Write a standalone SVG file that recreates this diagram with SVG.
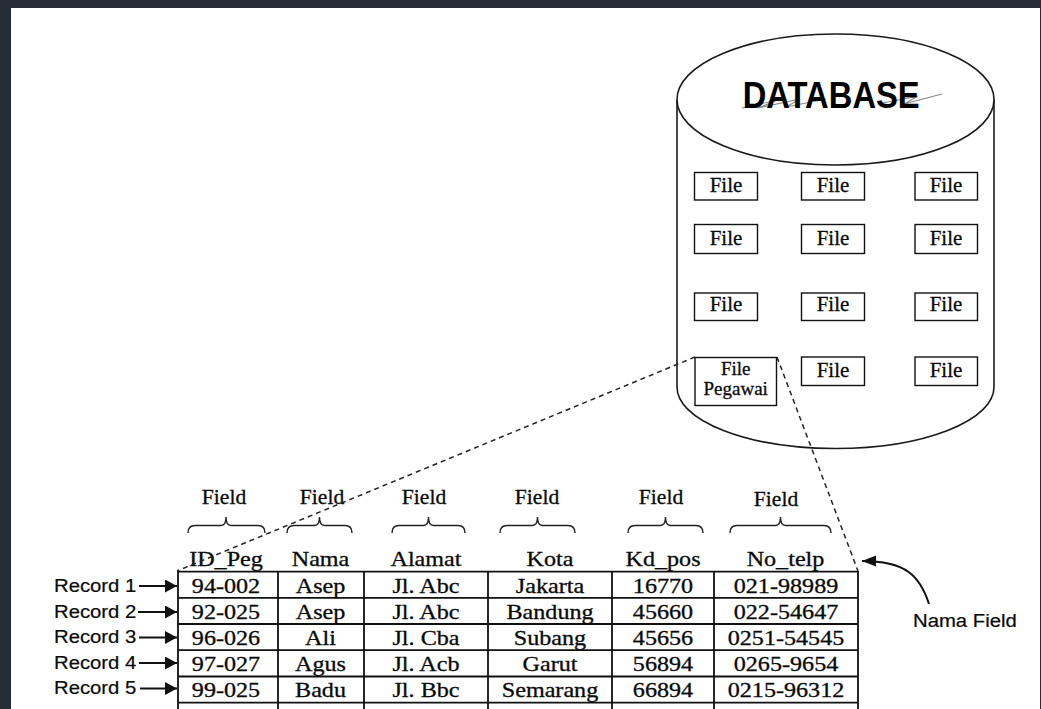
<svg xmlns="http://www.w3.org/2000/svg" width="1041" height="709" viewBox="0 0 1041 709">
  <style>
    .frame { fill: #262d36; }
    .page { fill: #ffffff; }
    .serif { font-family: "Liberation Serif", "Times New Roman", serif; fill: #0a0a0a; stroke: #0a0a0a; stroke-width: 0.3; }
    .sans { font-family: "Liberation Sans", Arial, sans-serif; fill: #0a0a0a; stroke: #0a0a0a; stroke-width: 0.2; }
    .cyl { fill: #ffffff; stroke: #1a1a1a; stroke-width: 1.6; }
    .box { fill: #ffffff; stroke: #111; stroke-width: 1.4; }
    .file { font-size: 21px; text-anchor: middle; }
    .grid { fill: none; stroke: #111; stroke-width: 1.8; }
    .brace { fill: none; stroke: #222; stroke-width: 1.4; }
    .dash { fill: none; stroke: #222; stroke-width: 1.5; stroke-dasharray: 5 4; }
    .field { font-size: 20px; text-anchor: middle; }
    .cell { font-size: 21px; text-anchor: middle; }
    .rec { font-size: 17.5px; }
    .arrow { fill: none; stroke: #111; stroke-width: 2; }
    .streak { fill: none; stroke: #8a8a8a; stroke-width: 1.1; }
  </style>
  <defs>
    <marker id="head" markerUnits="userSpaceOnUse" markerWidth="13" markerHeight="13" refX="12" refY="6.5" orient="auto">
      <path d="M0,0 L12,6.5 L0,13 z" fill="#111"/>
    </marker>
    <marker id="headCurve" markerUnits="userSpaceOnUse" markerWidth="15" markerHeight="12" refX="14" refY="6" orient="auto">
      <path d="M0,0.5 L14,6 L0,11.5 z" fill="#111"/>
    </marker>
  </defs>

  <!-- page frame -->
  <rect class="frame" x="0" y="0" width="1041" height="709"/>
  <rect class="page" x="11" y="8" width="1029" height="701"/>

  <!-- database cylinder -->
  <g id="database">
    <path class="cyl" d="M677,100 L677,387 A158.5,61.5 0 0 0 994,387 L994,100"/>
    <ellipse class="cyl" cx="835.5" cy="99.5" rx="158.5" ry="65.5"/>
    <path class="streak" d="M742,108 L778,100 L758,108 L800,99 L786,107 L826,99 M878,104 L918,96 L904,104 L942,94"/>
    <text x="742.7" y="107.5" font-family="Liberation Sans, Arial, sans-serif" font-size="36" font-weight="bold" fill="#000" textLength="177" lengthAdjust="spacingAndGlyphs">DATABASE</text>
  </g>

  <!-- files inside the database -->
  <g id="file-r1c1"><rect class="box" x="694.5" y="172.5" width="63" height="27.5"/><text class="serif file" x="726" y="192">File</text></g>
  <g id="file-r1c2"><rect class="box" x="801.5" y="172.5" width="63" height="27.5"/><text class="serif file" x="833" y="192">File</text></g>
  <g id="file-r1c3"><rect class="box" x="915" y="172.5" width="62.5" height="27.5"/><text class="serif file" x="946" y="192">File</text></g>

  <g id="file-r2c1"><rect class="box" x="694.5" y="224.5" width="63" height="29"/><text class="serif file" x="726" y="244.5">File</text></g>
  <g id="file-r2c2"><rect class="box" x="801.5" y="224.5" width="63" height="29"/><text class="serif file" x="833" y="244.5">File</text></g>
  <g id="file-r2c3"><rect class="box" x="915" y="224.5" width="62.5" height="29"/><text class="serif file" x="946" y="244.5">File</text></g>

  <g id="file-r3c1"><rect class="box" x="694.5" y="293" width="63" height="27.5"/><text class="serif file" x="726" y="311">File</text></g>
  <g id="file-r3c2"><rect class="box" x="801.5" y="293" width="63" height="27.5"/><text class="serif file" x="833" y="311">File</text></g>
  <g id="file-r3c3"><rect class="box" x="915" y="293" width="62.5" height="27.5"/><text class="serif file" x="946" y="311">File</text></g>

  <g id="file-pegawai">
    <rect class="box" x="695" y="357.5" width="81.5" height="48"/>
    <text class="serif" x="735.7" y="375" font-size="19" text-anchor="middle">File</text>
    <text class="serif" x="735.7" y="395" font-size="19" text-anchor="middle">Pegawai</text>
  </g>
  <g id="file-r4c2"><rect class="box" x="801.5" y="357" width="63" height="28.5"/><text class="serif file" x="833" y="376.5">File</text></g>
  <g id="file-r4c3"><rect class="box" x="915" y="357" width="62.5" height="28.5"/><text class="serif file" x="946" y="376.5">File</text></g>

  <!-- field labels and braces -->
  <g id="field-labels">
    <text class="serif field" transform="translate(224 503.5) scale(1.08 1)">Field</text>
    <text class="serif field" transform="translate(322 503.5) scale(1.08 1)">Field</text>
    <text class="serif field" transform="translate(424 503.5) scale(1.08 1)">Field</text>
    <text class="serif field" transform="translate(537 503.5) scale(1.08 1)">Field</text>
    <text class="serif field" transform="translate(661 504) scale(1.08 1)">Field</text>
    <text class="serif field" transform="translate(776 506) scale(1.08 1)">Field</text>
    <path class="brace" d="M188,533 Q188,525.5 195,525.5 L221,525.5 Q226,525.5 226,517 Q226,525.5 231,525.5 L258,525.5 Q265,525.5 265,533"/>
    <path class="brace" d="M287,533 Q287,525.5 294,525.5 L314.5,525.5 Q319.5,525.5 319.5,517 Q319.5,525.5 324.5,525.5 L345,525.5 Q352,525.5 352,533"/>
    <path class="brace" d="M392,533 Q392,525.5 399,525.5 L423.5,525.5 Q428.5,525.5 428.5,517 Q428.5,525.5 433.5,525.5 L458,525.5 Q465,525.5 465,533"/>
    <path class="brace" d="M500,533 Q500,525.5 507,525.5 L532.5,525.5 Q537.5,525.5 537.5,517 Q537.5,525.5 542.5,525.5 L568,525.5 Q575,525.5 575,533"/>
    <path class="brace" d="M628,533 Q628,525.5 635,525.5 L660.5,525.5 Q665.5,525.5 665.5,517 Q665.5,525.5 670.5,525.5 L696,525.5 Q703,525.5 703,533"/>
    <path class="brace" d="M730,533 Q730,525.5 737,525.5 L775.5,525.5 Q780.5,525.5 780.5,517 Q780.5,525.5 785.5,525.5 L824,525.5 Q831,525.5 831,533"/>
  </g>

  <!-- employee table -->
  <g id="table">
    <path class="grid" d="M178,571.7 L858,571.7 M178,597.8 L858,597.8 M178,624 L858,624 M178,650.2 L858,650.2 M178,676.5 L858,676.5 M178,702.7 L858,702.7"/>
    <path class="grid" d="M178,571 L178,709 M278,571.7 L278,709 M364,571.7 L364,709 M488,571.7 L488,709 M612,571.7 L612,709 M714,571.7 L714,709 M858,571 L858,709"/>

    <g id="header">
      <text class="serif cell" transform="translate(226 566) scale(1.15 1)">ID_Peg</text>
      <text class="serif cell" transform="translate(320.5 566) scale(1.15 1)">Nama</text>
      <text class="serif cell" transform="translate(426 566) scale(1.15 1)">Alamat</text>
      <text class="serif cell" transform="translate(550 566) scale(1.15 1)">Kota</text>
      <text class="serif cell" transform="translate(663 566) scale(1.15 1)">Kd_pos</text>
      <text class="serif cell" transform="translate(785.5 566) scale(1.15 1)">No_telp</text>
    </g>

    <g id="row1">
      <text class="serif cell" transform="translate(226 593) scale(1.15 1)">94-002</text>
      <text class="serif cell" transform="translate(320.5 593) scale(1.15 1)">Asep</text>
      <text class="serif cell" transform="translate(426 593) scale(1.15 1)">Jl. Abc</text>
      <text class="serif cell" transform="translate(550 593) scale(1.15 1)">Jakarta</text>
      <text class="serif cell" transform="translate(663 593) scale(1.15 1)">16770</text>
      <text class="serif cell" transform="translate(786 593) scale(1.15 1)">021-98989</text>
    </g>
    <g id="row2">
      <text class="serif cell" transform="translate(226 619) scale(1.15 1)">92-025</text>
      <text class="serif cell" transform="translate(320.5 619) scale(1.15 1)">Asep</text>
      <text class="serif cell" transform="translate(426 619) scale(1.15 1)">Jl. Abc</text>
      <text class="serif cell" transform="translate(550 619) scale(1.15 1)">Bandung</text>
      <text class="serif cell" transform="translate(663 619) scale(1.15 1)">45660</text>
      <text class="serif cell" transform="translate(786 619) scale(1.15 1)">022-54647</text>
    </g>
    <g id="row3">
      <text class="serif cell" transform="translate(226 645) scale(1.15 1)">96-026</text>
      <text class="serif cell" transform="translate(320.5 645) scale(1.15 1)">Ali</text>
      <text class="serif cell" transform="translate(426 645) scale(1.15 1)">Jl. Cba</text>
      <text class="serif cell" transform="translate(550 645) scale(1.15 1)">Subang</text>
      <text class="serif cell" transform="translate(663 645) scale(1.15 1)">45656</text>
      <text class="serif cell" transform="translate(786 645) scale(1.15 1)">0251-54545</text>
    </g>
    <g id="row4">
      <text class="serif cell" transform="translate(226 671) scale(1.15 1)">97-027</text>
      <text class="serif cell" transform="translate(320.5 671) scale(1.15 1)">Agus</text>
      <text class="serif cell" transform="translate(426 671) scale(1.15 1)">Jl. Acb</text>
      <text class="serif cell" transform="translate(550 671) scale(1.15 1)">Garut</text>
      <text class="serif cell" transform="translate(663 671) scale(1.15 1)">56894</text>
      <text class="serif cell" transform="translate(786 671) scale(1.15 1)">0265-9654</text>
    </g>
    <g id="row5">
      <text class="serif cell" transform="translate(226 697) scale(1.15 1)">99-025</text>
      <text class="serif cell" transform="translate(320.5 697) scale(1.15 1)">Badu</text>
      <text class="serif cell" transform="translate(426 697) scale(1.15 1)">Jl. Bbc</text>
      <text class="serif cell" transform="translate(550 697) scale(1.15 1)">Semarang</text>
      <text class="serif cell" transform="translate(663 697) scale(1.15 1)">66894</text>
      <text class="serif cell" transform="translate(786 697) scale(1.15 1)">0215-96312</text>
    </g>
  </g>

  <!-- record labels -->
  <g id="record-labels">
    <text class="sans rec" transform="translate(54 591.7) scale(1.16 1)">Record 1</text>
    <text class="sans rec" transform="translate(54 617.7) scale(1.16 1)">Record 2</text>
    <text class="sans rec" transform="translate(54 643.3) scale(1.16 1)">Record 3</text>
    <text class="sans rec" transform="translate(54 669) scale(1.16 1)">Record 4</text>
    <text class="sans rec" transform="translate(54 694.3) scale(1.16 1)">Record 5</text>
  </g>

  <g id="nama-field-label">
    <text class="sans rec" transform="translate(913 626.5) scale(1.16 1)">Nama Field</text>
  </g>

  <!-- connectors -->
  <g id="connectors">
    <path class="dash" d="M695,357 L177,571"/>
    <path class="dash" d="M777,357 L858,571"/>
    <line class="arrow" x1="139" y1="586" x2="177" y2="586" marker-end="url(#head)"/>
    <line class="arrow" x1="138" y1="612" x2="177" y2="612" marker-end="url(#head)"/>
    <line class="arrow" x1="139" y1="637.5" x2="177" y2="637.5" marker-end="url(#head)"/>
    <line class="arrow" x1="139" y1="663" x2="177" y2="663" marker-end="url(#head)"/>
    <line class="arrow" x1="140" y1="688.5" x2="177" y2="688.5" marker-end="url(#head)"/>
    <path class="arrow" d="M929,604 C920,576 906,561 862,561" marker-end="url(#headCurve)"/>
  </g>
</svg>
